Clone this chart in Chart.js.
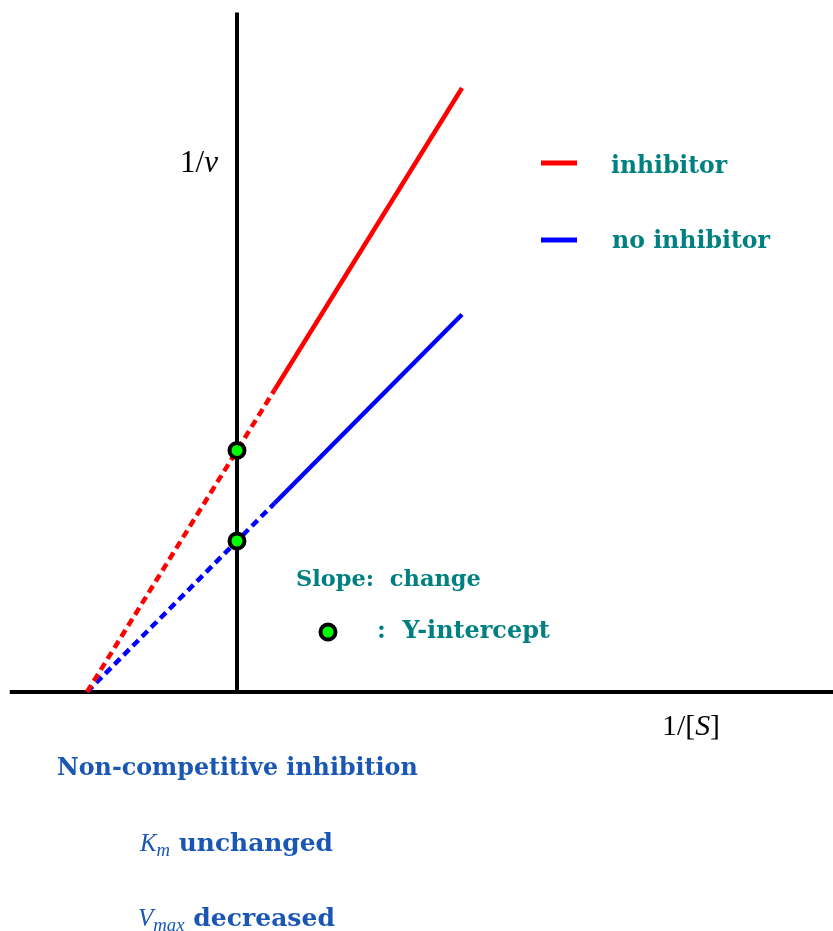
<!DOCTYPE html>
<html>
<head>
<meta charset="utf-8">
<script src="https://cdn.jsdelivr.net/npm/chart.js@4"></script>
<style>
body { margin: 0; background: #fff; }
#wrap { width: 833px; height: 931px; }
</style>
</head>
<body>
<div id="wrap"><canvas id="plot"></canvas></div>
<script>
// 1/[S] values where the lines are sampled (dotted part first, then solid)
const lineX = [-1, 0.25, 1.5];
const inhibitorY = [0, 2.0, 4.0];
const noInhibitorY = [0, 1.25, 2.5];
// y-intercepts (1/Vmax)
const interceptX = [0, 0];
const interceptY = [1.6, 1.0];
// axis extents
const xAxisX = [-1.515, 4.0];
const xAxisY = [0, 0];
const yAxisX = [0, 0];
const yAxisY = [0, 4.5];

const TEAL = '#008080';
const NAVY = '#1a57b5';

const pts = (xs, ys) => xs.map((x, i) => ({ x: x, y: ys[i] }));
const dashFirst = ctx => ctx.p0DataIndex === 0 ? [8, 5] : [];

// draw a run of text pieces, scaled so that it takes the given width
function drawRuns(ctx, runs, x, y, width, color) {
    const fontOf = (st, size) => {
        if (st === 'b') return 'bold ' + size + 'px "DejaVu Serif"';
        if (st === 'r') return size + 'px "Liberation Serif"';
        return 'italic ' + size + 'px "Liberation Serif"';
    };
    const base = 20;
    let total = 0;
    runs.forEach(r => {
        const size = r[1] === 's' ? base * 0.75 : base;
        ctx.font = fontOf(r[1], size);
        total += ctx.measureText(r[0]).width;
    });
    const k = width / total;
    let cx = x;
    ctx.fillStyle = color;
    ctx.textBaseline = 'alphabetic';
    ctx.textAlign = 'left';
    runs.forEach(r => {
        const size = (r[1] === 's' ? base * 0.75 : base) * k;
        ctx.font = fontOf(r[1], size);
        const dy = r[1] === 's' ? base * k * 0.2 : 0;
        ctx.fillText(r[0], cx, y + dy);
        cx += ctx.measureText(r[0]).width;
    });
}

const notes = {
    id: 'notes',
    afterDraw(chart) {
        const ctx = chart.ctx;
        ctx.save();
        drawRuns(ctx, [['1/', 'r'], ['v', 'i']], 180, 172, 38, '#000');
        drawRuns(ctx, [['1/[', 'r'], ['S', 'i'], [']', 'r']], 662, 735, 58, '#000');

        // legend
        ctx.lineWidth = 5;
        ctx.strokeStyle = 'red';
        ctx.beginPath(); ctx.moveTo(541, 163); ctx.lineTo(577, 163); ctx.stroke();
        ctx.strokeStyle = 'blue';
        ctx.beginPath(); ctx.moveTo(541, 240); ctx.lineTo(577, 240); ctx.stroke();
        drawRuns(ctx, [['inhibitor', 'b']], 611, 173, 116, TEAL);
        drawRuns(ctx, [['no inhibitor', 'b']], 612, 248, 158, TEAL);

        drawRuns(ctx, [['Slope:  change', 'b']], 296, 586, 185, TEAL);
        ctx.beginPath();
        ctx.arc(328, 632, 7.5, 0, Math.PI * 2);
        ctx.fillStyle = '#00ff00';
        ctx.fill();
        ctx.lineWidth = 4;
        ctx.strokeStyle = '#000';
        ctx.stroke();
        drawRuns(ctx, [[':  Y-intercept', 'b']], 377, 638, 173, TEAL);

        drawRuns(ctx, [['Non-competitive inhibition', 'b']], 57, 775, 361, NAVY);
        drawRuns(ctx, [['K', 'i'], ['m', 's'], [' unchanged', 'b']], 140, 851, 193, NAVY);
        drawRuns(ctx, [['V', 'i'], ['max', 's'], [' decreased', 'b']], 138, 926, 197, NAVY);
        ctx.restore();
    }
};

const chart = new Chart(document.getElementById('plot'), {
    type: 'scatter',
    data: {
        datasets: [
            {
                label: 'x axis',
                data: pts(xAxisX, xAxisY),
                showLine: true,
                borderColor: '#000',
                borderWidth: 4,
                pointRadius: 0,
                clip: false,
                order: 3
            },
            {
                label: 'y axis',
                data: pts(yAxisX, yAxisY),
                showLine: true,
                borderColor: '#000',
                borderWidth: 4,
                pointRadius: 0,
                clip: false,
                order: 3
            },
            {
                label: 'inhibitor',
                data: pts(lineX, inhibitorY),
                showLine: true,
                borderColor: 'red',
                borderWidth: 4.5,
                pointRadius: 0,
                segment: { borderDash: dashFirst },
                order: 2
            },
            {
                label: 'no inhibitor',
                data: pts(lineX, noInhibitorY),
                showLine: true,
                borderColor: 'blue',
                borderWidth: 4.5,
                pointRadius: 0,
                segment: { borderDash: dashFirst },
                order: 2
            },
            {
                label: 'Y-intercept',
                data: pts(interceptX, interceptY),
                showLine: false,
                backgroundColor: '#00ff00',
                borderColor: '#000',
                borderWidth: 4,
                pointRadius: 7.5,
                order: 1
            }
        ]
    },
    options: {
        responsive: true,
        maintainAspectRatio: false,
        animation: false,
        layout: { padding: 0 },
        scales: {
            // chart area is inset by the point overflow (11.5px), ranges compensate
            x: { type: 'linear', display: false, min: -1.50333, max: 3.89667 },
            y: { type: 'linear', display: false, min: -1.5066, max: 4.5066 }
        },
        plugins: {
            legend: { display: false },
            tooltip: { enabled: false }
        }
    },
    plugins: [notes]
});
</script>
</body>
</html>
